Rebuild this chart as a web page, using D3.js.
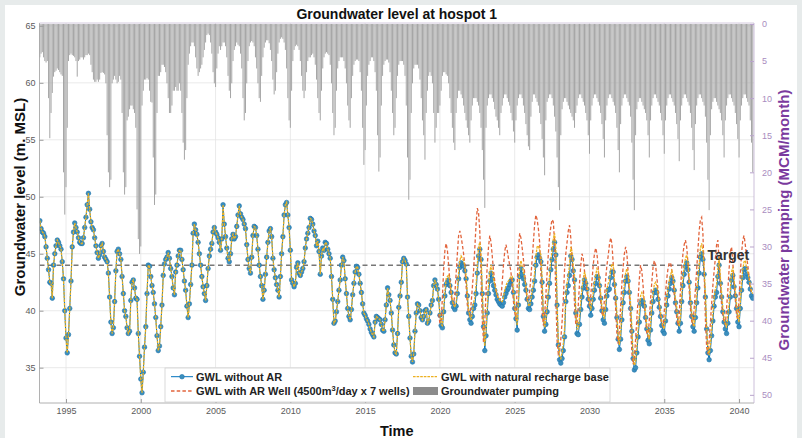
<!DOCTYPE html>
<html><head><meta charset="utf-8">
<script src="https://cdn.jsdelivr.net/npm/d3@7/dist/d3.min.js"></script>
<style>
body{margin:0;background:#e7ebeb}
svg{display:block}
text{font-family:"Liberation Sans",Arial,sans-serif}
</style></head>
<body><svg id="chart" width="802" height="438"></svg>
<script>
// ---------------- DATA (monthly, first value = April 1993) ----------------
const startTime = 1993.25;
const xTicks = [1995, 2000, 2005, 2010, 2015, 2020, 2025, 2030, 2035, 2040];
const leftTicks = [35, 40, 45, 50, 55, 60, 65];
const rightTicks = [0, 5, 10, 15, 20, 25, 30, 35, 40, 45, 50];
const targetLevel = 44;
const titleText = "Groundwater level at hospot 1";

// GWL without AR (m MSL)
const gwlNoAR = [
47.9,47.2,46.9,46.8,46.5,45.6,44.6,43.6,42.5,
42.4,41.1,44.0,45.0,45.7,46.2,46.0,45.7,45.4,44.3,42.8,40.0,
37.6,36.3,37.9,40.2,42.6,45.6,46.9,47.7,47.3,46.9,46.4,46.0,
45.9,45.9,46.4,47.3,48.2,49.3,50.3,48.9,47.8,47.3,47.1,46.4,
45.7,45.1,44.6,44.9,45.7,45.9,45.2,44.7,44.5,44.3,43.3,41.2,
39.0,38.0,38.5,40.8,43.5,45.2,45.4,45.0,44.5,43.0,41.5,40.0,
39.5,38.5,38.0,38.2,40.9,42.5,42.7,42.0,41.1,41.0,38.0,36.0,
34.0,32.8,34.6,36.8,38.6,41.5,44.0,43.9,43.0,42.2,41.6,40.6,
39.4,37.8,36.5,36.9,38.6,40.5,43.1,44.1,44.5,44.7,45.1,44.6,
43.7,43.0,42.0,41.4,43.4,44.0,44.8,45.3,45.3,44.5,43.6,42.6,
41.8,40.4,39.4,40.6,42.3,44.0,46.8,47.6,47.1,46.7,46.0,45.0,
44.0,43.0,42.1,41.5,40.9,42.2,43.7,44.8,45.4,45.9,46.9,47.3,
46.9,46.7,46.4,46.0,45.3,46.3,49.3,47.6,46.5,45.5,44.6,44.3,
45.0,46.3,46.7,46.3,46.5,47.4,48.4,49.2,48.5,48.2,48.0,47.6,
47.2,45.8,44.5,43.7,43.3,44.7,46.6,47.4,47.3,46.6,45.4,44.0,
43.0,42.2,41.0,41.8,43.2,44.7,46.0,47.0,47.2,46.5,44.6,43.6,
42.9,42.3,41.8,41.2,43.0,45.0,46.5,48.4,49.3,49.5,48.4,47.3,
45.3,42.7,42.4,42.1,42.4,43.8,44.2,43.3,43.1,43.4,43.7,44.3,
45.5,46.3,46.8,47.3,48.1,48.0,47.6,47.0,46.6,45.7,46.1,45.2,
43.2,44.8,45.5,45.3,46.0,45.9,45.4,45.0,44.6,43.0,41.0,38.9,
39.1,39.9,40.8,41.8,42.7,44.0,44.7,44.4,42.8,41.5,40.2,39.5,
39.2,40.1,41.4,42.4,43.4,43.9,43.8,43.2,42.4,41.6,40.6,39.8,
39.6,39.3,39.1,38.8,38.4,38.1,37.9,37.7,39.0,39.5,39.4,39.3,
39.2,38.8,38.3,38.2,39.2,40.5,42.0,41.4,40.9,39.8,38.3,37.0,
36.3,36.2,38.0,40.3,41.3,42.5,44.3,44.6,44.4,44.1,41.2,39.5,
37.6,36.0,35.5,36.2,38.2,39.8,40.6,40.5,40.0,39.4,39.2,39.5,
40.0,40.1,38.9,39.1,39.8,40.5,40.9,42.2,42.7,42.3,41.9,41.0,
39.6,38.7,38.5,39.9,41.3,42.3,42.5,42.7,42.2,41.6,40.7,40.3,
40.1,40.4,41.5,42.8,43.8,44.2,44.0,43.9,43.5,42.8,41.3,39.8,
39.2,38.9,39.5,40.2,40.5,41.5,43.3,44.8,45.4,44.5,41.5,38.6,
36.5,37.8,39.8,41.5,42.6,43.3,42.8,42.2,41.8,41.4,41.0,40.8,
40.6,40.5,40.4,40.7,41.2,41.5,41.8,42.0,42.3,42.6,42.7,41.6,
40.2,39.3,38.3,40.5,43.0,43.7,43.2,42.8,42.3,41.8,41.0,40.2,
40.1,40.6,41.2,41.8,42.6,44.0,44.7,44.9,44.6,44.3,42.5,39.5,
38.2,38.8,39.9,41.2,42.4,43.6,44.5,45.4,46.0,44.9,40.5,37.0,
35.7,35.4,35.8,36.5,37.7,40.8,41.6,42.2,43.1,44.8,44.5,43.5,
42.7,39.8,38.0,37.9,38.8,40.1,41.2,42.0,42.7,42.4,41.9,41.0,
40.4,39.6,40.2,41.0,41.8,42.4,43.0,42.9,42.2,41.1,40.0,39.2,
38.9,40.1,41.3,41.8,41.9,42.9,43.4,43.4,42.3,41.1,39.4,37.5,
36.6,37.5,39.2,40.7,41.6,42.6,43.0,42.6,41.6,40.2,38.2,35.8,
34.8,35.0,36.3,37.7,39.0,40.6,40.9,40.8,40.4,39.4,38.4,37.4,
37.1,38.3,39.8,40.8,41.6,41.8,41.6,41.0,40.3,39.5,38.7,38.2,
38.0,39.1,40.5,41.3,41.9,42.4,42.9,42.6,41.8,40.7,39.9,38.9,
38.2,38.9,40.8,42.2,43.2,43.9,44.2,43.6,42.5,40.7,39.5,38.6,
38.2,39.4,40.7,42.0,43.3,44.7,45.0,44.5,43.2,41.2,38.4,36.3,
35.7,36.5,37.8,39.1,40.4,41.2,41.6,43.0,44.0,42.4,41.2,39.9,
39.0,38.4,38.0,38.9,39.9,41.2,42.7,43.1,42.1,41.3,40.2,39.0,
38.6,40.2,41.8,42.9,43.6,43.7,43.2,42.9,42.5,41.9,41.3,41.1
];

// GWL with natural recharge base, from Jan 2020 (before 2020 it coincides with GWL without AR)
const gwlNaturalFrom2020 = [
39.7,38.8,38.7,40.2,41.7,42.8,43.0,43.1,42.5,41.8,40.9,40.5,
40.3,40.7,41.9,43.3,44.4,44.8,44.6,44.4,43.9,43.1,41.6,40.1,
39.5,39.2,39.9,40.7,41.1,42.2,44.0,45.6,46.0,45.0,41.9,38.9,
36.9,38.3,40.4,42.2,43.4,44.0,43.5,42.8,42.3,41.8,41.3,41.1,
40.9,40.8,40.8,41.2,41.8,42.2,42.5,42.6,42.8,43.0,43.0,41.9,
40.5,39.6,38.7,41.0,43.7,44.4,43.9,43.4,42.8,42.2,41.3,40.5,
40.4,41.0,41.7,42.4,43.3,44.8,45.6,45.7,45.3,44.9,42.9,39.8,
38.5,39.2,40.4,41.8,43.1,44.4,45.3,46.3,46.8,45.5,40.9,37.3,
36.0,35.8,36.3,37.1,38.4,41.5,42.4,43.1,44.0,45.6,45.2,44.0,
43.1,40.2,38.4,38.4,39.4,40.8,42.0,42.8,43.4,43.0,42.4,41.4,
40.8,40.0,40.7,41.6,42.5,43.1,43.7,43.5,42.7,41.5,40.4,39.6,
39.3,40.6,41.9,42.4,42.6,43.6,44.1,44.0,42.8,41.5,39.8,37.9,
37.0,38.0,39.8,41.4,42.3,43.3,43.7,43.2,42.1,40.6,38.6,36.2,
35.2,35.5,36.9,38.4,39.8,41.3,41.6,41.4,40.9,39.8,38.8,37.8,
37.5,38.8,40.4,41.5,42.3,42.5,42.2,41.5,40.7,39.9,39.1,38.6,
38.4,39.6,41.1,41.9,42.6,43.1,43.5,43.1,42.2,41.1,40.3,39.3,
38.6,39.4,41.4,42.9,43.9,44.6,44.9,44.2,43.0,41.1,39.9,39.0,
38.6,39.9,41.3,42.7,44.0,45.5,45.9,45.3,43.8,41.6,38.8,36.7,
36.1,37.0,38.4,39.7,41.1,41.9,42.3,43.7,44.7,43.0,41.6,40.3,
39.4,38.8,38.5,39.5,40.6,41.9,43.4,43.8,42.7,41.8,40.6,39.4,
39.0,40.7,42.4,43.6,44.3,44.4,43.8,43.4,42.9,42.3,41.7,41.5
];

// GWL with AR Well (4500 m3/day x 7 wells), from Jan 2020
const gwlARFrom2020 = [
39.7,38.9,39.0,41.2,43.6,45.3,45.9,45.3,44.0,42.6,41.3,40.8,
40.6,41.5,43.2,45.0,46.6,47.0,46.5,45.8,45.0,44.0,42.2,40.5,
39.8,39.6,40.6,42.0,43.5,45.5,47.6,49.0,48.6,47.0,43.0,39.2,
37.2,39.0,41.8,44.0,45.6,46.6,46.0,44.8,43.5,42.6,41.8,41.4,
41.0,40.9,41.2,42.5,44.0,45.2,45.8,45.3,44.6,44.0,43.4,42.1,
40.8,39.9,39.2,42.2,45.4,46.8,46.4,45.5,44.5,43.3,42.0,40.9,
40.9,41.7,43.0,44.5,46.0,47.6,48.4,48.0,47.2,46.0,43.4,40.0,
38.7,39.6,41.4,43.3,45.0,46.5,47.4,48.0,47.8,46.0,41.2,37.4,
36.2,36.4,37.5,39.0,41.0,43.6,45.0,46.0,47.0,47.5,46.4,44.6,
43.2,40.6,38.8,38.9,40.5,42.4,44.0,45.0,44.6,43.5,42.6,41.6,
41.0,40.4,41.3,42.6,44.0,45.0,45.5,45.0,43.8,42.2,40.8,39.8,
39.5,41.0,42.8,44.0,44.8,45.8,46.4,45.9,44.2,42.4,40.2,38.0,
37.1,38.3,40.4,42.4,43.8,45.0,45.6,45.0,43.4,41.4,38.9,36.3,
35.3,35.8,37.5,39.3,41.0,42.8,44.0,43.5,42.2,40.6,39.2,38.0,
37.7,39.2,41.0,42.5,43.8,44.4,44.0,43.0,41.8,40.4,39.4,38.8,
38.6,39.9,41.6,42.8,43.7,44.2,44.2,43.6,42.6,41.4,40.5,39.4,
38.7,39.6,41.8,43.7,45.0,45.8,46.2,45.6,44.2,41.8,40.2,39.1,
38.7,40.2,41.9,43.6,45.3,47.0,48.0,48.2,46.8,43.5,39.3,36.8,
36.2,37.3,38.9,40.6,42.2,43.5,44.6,45.8,46.2,44.4,42.2,40.5,
39.6,39.0,38.8,40.2,41.8,43.6,45.2,45.6,44.2,42.6,41.0,39.6,
39.2,41.0,43.2,45.0,46.2,46.6,45.8,44.8,44.0,43.0,42.0,41.6
];

// Groundwater pumping (MCM/month), same months as gwlNoAR
const pumping = [
4.5,4.0,3.8,4.5,5.0,5.2,5.0,10.0,15.4,
12.0,9.3,7.1,6.5,6.3,6.0,6.2,6.5,6.8,7.0,20.0,25.7,
22.0,14.0,5.0,4.2,4.0,4.2,4.3,4.5,5.0,7.1,5.0,4.8,
4.5,4.5,4.8,4.5,4.2,4.2,4.0,4.2,5.5,6.5,7.5,7.8,
7.8,7.5,7.8,7.5,6.6,6.5,6.6,6.8,8.0,15.0,20.0,22.0,
21.0,8.0,7.5,7.0,7.5,8.0,7.8,7.0,7.5,12.0,20.0,23.0,
22.0,13.0,12.5,11.5,11.0,11.0,11.5,12.0,14.0,25.0,29.0,31.0,
30.0,11.0,9.0,7.5,7.5,7.3,7.5,9.0,10.5,10.6,18.0,24.4,
23.0,12.0,7.0,7.0,6.5,5.5,5.5,5.8,6.5,8.0,10.0,12.0,
12.0,11.0,9.0,9.0,8.5,9.0,9.0,8.0,9.0,12.0,16.0,18.3,
17.0,10.0,5.5,4.0,3.0,2.5,2.5,3.0,4.5,6.0,7.0,6.5,
6.0,5.5,4.5,3.5,2.5,1.5,1.3,1.5,2.5,4.0,6.5,8.0,
8.5,6.0,4.0,3.0,3.5,3.0,2.5,2.5,3.0,4.5,7.0,9.0,
10.0,8.0,5.0,3.5,3.0,2.5,2.8,3.0,4.0,6.0,10.0,13.0,
12.0,8.0,5.0,3.0,2.5,2.3,2.5,3.0,4.5,6.0,8.0,10.0,
10.5,7.0,4.5,3.2,2.5,2.2,2.2,2.6,3.5,5.0,7.5,9.5,
9.0,6.5,4.0,2.5,2.0,1.8,2.0,2.5,3.5,6.0,10.0,13.0,
14.0,9.0,5.0,3.5,3.0,2.8,3.0,3.5,5.0,7.0,9.0,10.0,
9.0,6.5,5.0,4.5,4.5,4.2,4.0,4.5,5.5,7.5,10.0,12.0,
13.0,9.0,6.0,4.5,4.0,3.8,4.0,4.2,5.5,8.0,12.0,15.0,
14.0,9.0,6.0,5.0,4.5,4.5,4.5,5.0,6.0,8.0,11.0,13.0,
14.0,10.0,7.0,5.5,5.0,4.8,4.8,5.0,6.5,9.0,14.0,19.0,
17.0,11.0,7.0,5.5,5.0,4.5,4.5,5.0,6.5,9.0,15.0,19.9,
18.0,11.0,7.0,5.5,5.0,4.8,4.8,5.2,6.5,9.0,12.0,15.0,
14.0,10.0,7.0,5.5,5.0,5.0,5.0,5.5,7.0,11.0,18.0,23.7,
21.0,12.0,8.0,6.0,5.5,5.5,5.5,6.0,7.5,10.0,13.0,15.0,
18.3,12.0,9.0,7.0,6.5,7.0,8.0,12.0,16.0,14.0,12.0,12.0,
11.0,9.0,7.0,6.5,6.5,6.8,7.0,8.0,10.0,12.0,14.0,16.0,
17.0,12.0,10.0,9.0,9.0,9.5,10.0,11.0,12.0,13.0,14.0,15.0,
16.0,13.0,11.0,10.0,10.0,10.0,10.5,11.0,12.0,14.0,17.0,21.0,
24.8,14.0,11.0,10.0,9.5,9.5,10.0,10.5,11.5,12.5,13.0,14.0,
15.0,12.0,11.0,10.0,9.5,9.5,10.0,10.5,11.0,12.0,13.0,14.5,
16.0,13.0,11.0,10.0,9.5,9.5,10.0,11.0,12.0,13.5,15.0,16.5,
17.0,12.5,10.5,9.5,9.5,10.0,10.5,11.0,12.0,13.5,15.5,18.0,
20.4,13.0,10.5,10.0,9.5,9.5,10.0,11.0,12.5,14.5,18.0,22.0,
25.1,15.0,11.5,10.5,10.0,10.0,10.5,11.0,11.5,12.0,12.5,13.0,
14.0,12.0,11.0,10.0,9.5,9.5,10.0,10.5,11.0,12.0,13.0,15.0,
17.5,13.0,11.0,10.0,9.5,9.5,10.0,10.5,11.0,12.0,13.5,15.5,
18.0,13.0,11.0,10.0,9.5,9.5,10.0,10.5,11.0,12.0,14.0,17.0,
20.0,13.5,11.0,10.0,9.5,9.5,10.0,10.5,11.0,12.5,16.0,21.0,
25.1,15.0,11.5,10.5,10.0,10.0,10.5,11.0,11.5,12.0,13.0,15.0,
18.0,13.0,11.0,10.0,9.5,9.5,10.0,10.5,11.0,12.0,13.0,15.0,
17.5,13.0,11.0,10.0,9.5,9.5,10.0,10.5,11.0,12.0,13.5,15.5,
18.5,13.0,11.0,10.0,9.5,9.5,10.0,10.5,11.0,12.0,14.0,17.0,
19.7,13.5,11.0,10.0,9.5,9.5,10.0,10.5,11.0,12.5,16.0,21.0,
25.1,15.0,11.5,10.5,10.0,10.0,10.5,11.0,11.5,12.0,13.0,15.0,
18.0,13.0,11.0,10.0,9.5,9.5,10.0,10.5,11.0,12.0,13.5,15.5,
18.0,13.0,11.0,10.0,9.5,9.5,10.0,10.5,11.0,13.0,16.0,20.0
];

// ---------------- DRAWING ----------------
const svg = d3.select("#chart");
const P = {l: 39.5, r: 754, t: 23, b: 403};
const tOf = i => startTime + i / 12;
const i2020 = Math.round((2020 - startTime) * 12);
const natural = gwlNoAR.slice(0, i2020).concat(gwlNaturalFrom2020);
const withAR = gwlNoAR.slice(0, i2020 - 1).concat(gwlARFrom2020);
const arOffset = i2020 - 1;

const x = d3.scaleLinear().domain([1993.228, 2041.0]).range([P.l, P.r]);
const yL = d3.scaleLinear().domain([31.9, 65.25]).range([P.b, P.t]);
const yR = d3.scaleLinear().domain([-0.13, 51.1]).range([P.t, P.b]);

// page
svg.append("rect").attr("x", 0).attr("y", 0).attr("width", 802).attr("height", 438).attr("fill", "#e7ebeb");
svg.append("rect").attr("x", 5).attr("y", 5).attr("width", 792).attr("height", 433).attr("fill", "#ffffff");

svg.append("defs").append("clipPath").attr("id", "plotclip")
  .append("rect").attr("x", P.l).attr("y", P.t).attr("width", P.r - P.l).attr("height", P.b - P.t);

// grid
const grid = svg.append("g");
grid.selectAll("line.h").data(leftTicks).join("line")
  .attr("x1", P.l).attr("x2", P.r).attr("y1", d => yL(d)).attr("y2", d => yL(d))
  .attr("stroke", "#e4e4e4").attr("stroke-width", 0.8);
grid.selectAll("line.v").data(xTicks).join("line")
  .attr("y1", P.t).attr("y2", P.b).attr("x1", d => x(d)).attr("x2", d => x(d))
  .attr("stroke", "#e4e4e4").attr("stroke-width", 0.8);

const plot = svg.append("g").attr("clip-path", "url(#plotclip)");

// pumping bars (hanging from top, right axis reversed)
const bw = 1.0;
plot.append("g").selectAll("rect").data(pumping).join("rect")
  .attr("x", (d, i) => x(tOf(i)) - bw / 2)
  .attr("width", bw)
  .attr("y", yR(0))
  .attr("height", d => yR(d) - yR(0))
  .attr("fill", "#a6a6a6");

// target line
plot.append("line")
  .attr("x1", P.l).attr("x2", 704).attr("y1", yL(targetLevel)).attr("y2", yL(targetLevel))
  .attr("stroke", "#777777").attr("stroke-width", 1.5).attr("stroke-dasharray", "5,3.5");

const line = d3.line().x((d, i) => x(tOf(i))).y(d => yL(d));

// GWL without AR: line + markers
plot.append("path").datum(gwlNoAR).attr("d", line)
  .attr("fill", "none").attr("stroke", "#0072BD").attr("stroke-width", 1);
plot.append("g").selectAll("circle").data(gwlNoAR).join("circle")
  .attr("cx", (d, i) => x(tOf(i))).attr("cy", d => yL(d)).attr("r", 2.3)
  .attr("fill", "#3b8fbd").attr("stroke", "#1f73ad").attr("stroke-width", 0.6);

// GWL with AR (red dashed) - drawn from the month before 2020 onwards
const lineAR = d3.line().x((d, i) => x(tOf(i + arOffset))).y(d => yL(d));
plot.append("path").datum(withAR.slice(arOffset)).attr("d", lineAR)
  .attr("fill", "none").attr("stroke", "#e2643c").attr("stroke-width", 1.3)
  .attr("stroke-dasharray", "3.5,2.2");

// natural recharge base (yellow)
plot.append("path").datum(natural).attr("d", line)
  .attr("fill", "none").attr("stroke", "#EDB120").attr("stroke-width", 1.3)
  .attr("stroke-dasharray", "2.6,1");

// target label
svg.append("text").attr("x", 707.5).attr("y", 260).text("Target")
  .attr("font-size", 14).attr("font-weight", "bold").attr("fill", "#333333");

// axes box
svg.append("line").attr("x1", P.l).attr("x2", P.l).attr("y1", P.t).attr("y2", P.b).attr("stroke", "#9d9d9d").attr("stroke-width", 0.8);
svg.append("line").attr("x1", P.l).attr("x2", P.r).attr("y1", P.b).attr("y2", P.b).attr("stroke", "#9d9d9d").attr("stroke-width", 0.8);
svg.append("line").attr("x1", P.l).attr("x2", P.r).attr("y1", P.t).attr("y2", P.t).attr("stroke", "#c9bdd6").attr("stroke-width", 0.8);
svg.append("line").attr("x1", P.r).attr("x2", P.r).attr("y1", P.t).attr("y2", P.b).attr("stroke", "#bfaed0").attr("stroke-width", 0.8);

// left axis
const gL = svg.append("g").attr("transform", `translate(${P.l},0)`)
  .call(d3.axisLeft(yL).tickValues(leftTicks).tickSize(-4).tickPadding(4));
gL.select(".domain").remove();
gL.selectAll(".tick line").attr("stroke", "#9d9d9d");
gL.selectAll(".tick text").attr("font-size", 9).attr("fill", "#5a5a5a").attr("font-family", "Liberation Sans, Arial, sans-serif");

// right axis
const gR = svg.append("g").attr("transform", `translate(${P.r},0)`)
  .call(d3.axisRight(yR).tickValues(rightTicks).tickSize(-4).tickPadding(8));
gR.select(".domain").remove();
gR.selectAll(".tick line").attr("stroke", "#b9a3cc");
gR.selectAll(".tick text").attr("font-size", 9).attr("fill", "#a98cc0").attr("font-family", "Liberation Sans, Arial, sans-serif");

// bottom axis
const gB = svg.append("g").attr("transform", `translate(0,${P.b})`)
  .call(d3.axisBottom(x).tickValues(xTicks).tickFormat(d3.format("d")).tickSize(-4).tickPadding(5));
gB.select(".domain").remove();
gB.selectAll(".tick line").attr("stroke", "#9d9d9d");
gB.selectAll(".tick text").attr("font-size", 9).attr("fill", "#5a5a5a").attr("font-family", "Liberation Sans, Arial, sans-serif");

// titles
svg.append("text").attr("x", (P.l + P.r) / 2).attr("y", 18.5).attr("text-anchor", "middle")
  .attr("font-size", 14).attr("font-weight", "bold").attr("fill", "#111").text(titleText);
svg.append("text").attr("x", (P.l + P.r) / 2).attr("y", 436).attr("text-anchor", "middle")
  .attr("font-size", 14.5).attr("font-weight", "bold").attr("fill", "#111").text("Time");
svg.append("text").attr("transform", "translate(25,197) rotate(-90)").attr("text-anchor", "middle")
  .attr("font-size", 15).attr("font-weight", "bold").attr("fill", "#111").text("Groundwater level (m. MSL)");
svg.append("text").attr("transform", "translate(789,220) rotate(-90)").attr("text-anchor", "middle")
  .attr("font-size", 15).attr("font-weight", "bold").attr("fill", "#7a3a9e").text("Groundwater pumping (MCM/month)");

// legend
const lg = svg.append("g");
lg.append("rect").attr("x", 165).attr("y", 368).attr("width", 445).attr("height", 34)
  .attr("fill", "#ffffff").attr("stroke", "#cfcfcf").attr("stroke-width", 0.8);
const r1 = 376.7, r2 = 391;
lg.append("line").attr("x1", 171).attr("x2", 193).attr("y1", r1).attr("y2", r1).attr("stroke", "#0072BD").attr("stroke-width", 1);
lg.append("circle").attr("cx", 182).attr("cy", r1).attr("r", 2.3).attr("fill", "#3b8fbd").attr("stroke", "#1f73ad").attr("stroke-width", 0.6);
lg.append("line").attr("x1", 171).attr("x2", 193).attr("y1", r2).attr("y2", r2).attr("stroke", "#e2643c").attr("stroke-width", 1.3).attr("stroke-dasharray", "3.5,2.2");
lg.append("line").attr("x1", 413).attr("x2", 437).attr("y1", r1).attr("y2", r1).attr("stroke", "#EDB120").attr("stroke-width", 1.3).attr("stroke-dasharray", "2.6,1");
lg.append("rect").attr("x", 413).attr("y", r2 - 4).attr("width", 25).attr("height", 8).attr("fill", "#8c8c8c");
const lt = (xx, yy) => lg.append("text").attr("x", xx).attr("y", yy + 4)
  .attr("font-size", 11).attr("font-weight", "bold").attr("fill", "#222");
lt(196, r1).text("GWL without AR");
const t2 = lt(196, r2);
t2.append("tspan").text("GWL with AR Well (4500m");
t2.append("tspan").attr("font-size", 7.5).attr("dy", -4.5).text("3");
t2.append("tspan").attr("dy", 4.5).text("/day x 7 wells)");
lt(441, r1).text("GWL with natural recharge base");
lt(441, r2).text("Groundwater pumping");
</script>
</body></html>
